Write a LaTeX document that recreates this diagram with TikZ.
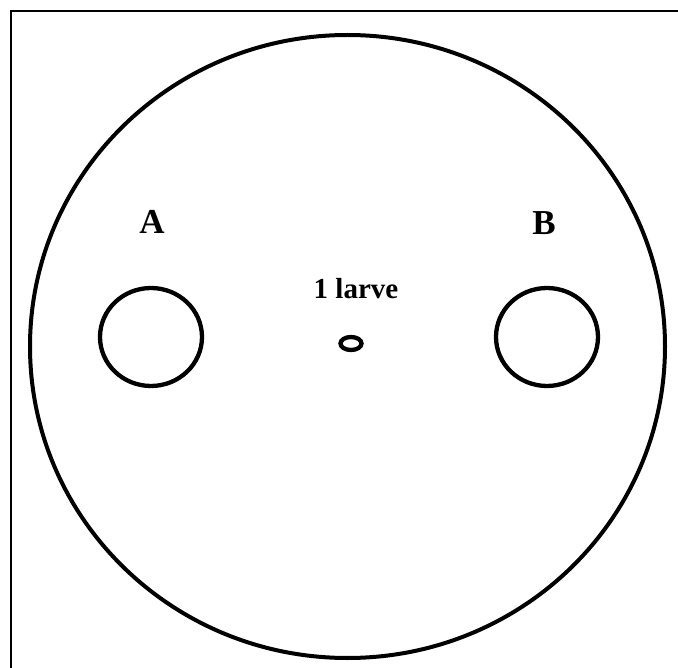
\documentclass[tikz,border=0pt]{standalone}
\usepackage{fontspec}
\setmainfont{Liberation Serif}
\usetikzlibrary{shapes.geometric}
\tikzset{
  ring/.style={draw=black, ellipse, inner sep=0pt, line width=#1},
  lbl/.style={font=\bfseries, inner sep=0pt, anchor=center}
}
\begin{document}
\begin{tikzpicture}[x=1pt,y=-1pt]
\useasboundingbox (0,0) rectangle (678,668);
\fill[white] (0,0) rectangle (678,668);
\draw[line width=2pt, black] (11,668) -- (11,11) -- (678,11);
\node[ring=4pt, minimum width=635pt, minimum height=623pt] (dish) at (347.5,346.5) {};
\node[ring=4.3pt, minimum width=102pt, minimum height=98pt] (ca) at (151,337) {};
\node[ring=4.3pt, minimum width=102pt, minimum height=98pt] (cb) at (547,337) {};
\node[ring=4.3pt, minimum width=21pt, minimum height=13pt] (larva) at (351,343.5) {};
\node[lbl, font=\fontsize{35}{35}\selectfont\bfseries] (la) at (152,222) {A};
\node[lbl, font=\fontsize{35}{35}\selectfont\bfseries] (lb) at (544,223) {B};
\node[lbl, font=\fontsize{29}{29}\selectfont\bfseries] (ll) at (356,289) {1 larve};
\end{tikzpicture}
\end{document}
